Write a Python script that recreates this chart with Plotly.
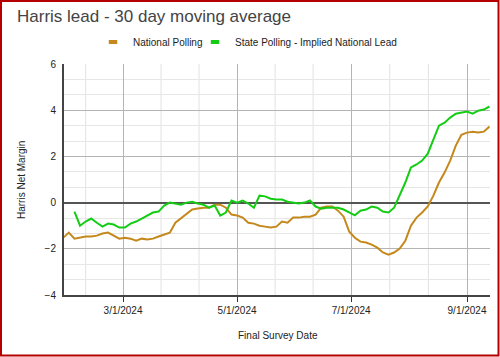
import pandas as pd
import plotly.graph_objects as go

# ---- data (30-day moving average of Harris net margin) ----
dates = pd.date_range("2024-01-29", periods=77, freq="3D")

national_polling = [
    -1.52, -1.30, -1.56, -1.52, -1.47, -1.47, -1.43, -1.34, -1.30, -1.43,
    -1.56, -1.52, -1.56, -1.65, -1.56, -1.60, -1.56, -1.47, -1.39, -1.30,
    -0.87, -0.69, -0.48, -0.30, -0.26, -0.22, -0.22, -0.09, -0.09, -0.22,
    -0.52, -0.56, -0.65, -0.87, -0.91, -1.00, -1.04, -1.08, -1.04, -0.82,
    -0.87, -0.65, -0.65, -0.61, -0.61, -0.52, -0.22, -0.17, -0.17, -0.35,
    -0.61, -1.26, -1.52, -1.69, -1.73, -1.82, -1.95, -2.16, -2.25, -2.16,
    -1.99, -1.65, -1.00, -0.65, -0.43, -0.17, 0.30, 0.87, 1.30, 1.82,
    2.47, 2.94, 3.03, 3.07, 3.03, 3.07, 3.29,
]

state_implied = [
    None, None, -0.39, -1.00, -0.82, -0.69, -0.87, -1.04, -0.91, -0.95,
    -1.08, -1.08, -0.91, -0.82, -0.69, -0.56, -0.43, -0.39, -0.13, 0.00,
    -0.04, -0.09, 0.00, 0.04, -0.04, -0.09, -0.22, -0.13, -0.56, -0.43,
    0.09, 0.00, 0.09, -0.04, -0.22, 0.30, 0.27, 0.17, 0.13, 0.13,
    0.04, 0.00, -0.04, 0.00, 0.09, -0.17, -0.26, -0.22, -0.22, -0.22,
    -0.30, -0.43, -0.55, -0.35, -0.30, -0.17, -0.22, -0.39, -0.43, -0.22,
    0.30, 0.87, 1.52, 1.65, 1.82, 2.12, 2.73, 3.33, 3.46, 3.68,
    3.85, 3.90, 3.94, 3.85, 3.98, 4.03, 4.16,
]

series_names = ["National Polling", "State Polling - Implied National Lead"]
series_colors = ["#c4881c", "#14cc14"]
major_ticks = ["2024-01-01", "2024-03-01", "2024-05-01", "2024-07-01", "2024-09-01", "2024-11-01"]
x_range = ["2024-01-29 10:00", "2024-09-13 07:00"]

FONT = "Arial, Liberation Sans, sans-serif"

fig = go.Figure()
legend_ids = ["legend", "legend2"]
for vals, name, col, lg in zip([national_polling, state_implied], series_names,
                               series_colors, legend_ids):
    fig.add_trace(go.Scatter(x=dates, y=vals, mode="lines", name=name,
                             line=dict(color=col, width=2), showlegend=False,
                             connectgaps=False))
    # compact legend swatch
    fig.add_trace(go.Scatter(x=[None], y=[None], mode="markers", name=name, legend=lg,
                             marker=dict(symbol="line-ew", size=6,
                                         line=dict(color=col, width=4))))

# minor vertical gridlines: thirds between major date ticks
mt = pd.to_datetime(major_ticks)
shapes = []
for a, b in zip(mt[:-1], mt[1:]):
    for f in (1 / 3, 2 / 3):
        t = a + (b - a) * f
        shapes.append(dict(type="line", xref="x", yref="paper", x0=t, x1=t, y0=0, y1=1,
                           line=dict(color="#e2e2e2", width=1), layer="below"))

# outer red frame
L, R, T, B = 64, 490, 64, 295
pw, ph = R - L, B - T
def px(x):
    return (x - L) / pw
def py(y):
    return (B - y) / ph
shapes.append(dict(type="rect", xref="paper", yref="paper",
                   x0=px(1), x1=px(498.5), y0=py(1), y1=py(355.5),
                   line=dict(color="#b40000", width=2), fillcolor="rgba(0,0,0,0)"))

legend_style = dict(orientation="h", yanchor="middle", y=py(42), xanchor="left",
                    font=dict(family=FONT, size=10, color="#222"), itemwidth=30,
                    bgcolor="rgba(0,0,0,0)")

fig.update_layout(
    width=500, height=357,
    margin=dict(l=L, r=500 - R, t=T, b=357 - B),
    paper_bgcolor="white", plot_bgcolor="white",
    font=dict(family=FONT, size=10, color="#222"),
    title=dict(text="Harris lead - 30 day moving average", x=17 / 500, xanchor="left",
               y=1 - 16 / 357, yanchor="middle",
               font=dict(family=FONT, size=17, color="#444")),
    legend=dict(legend_style, x=px(93)),
    legend2=dict(legend_style, x=px(195)),
    shapes=shapes,
    xaxis=dict(type="date", range=x_range, tickvals=mt, tickformat="%-m/%-d/%Y",
               showgrid=True, gridcolor="#b4b4b4", gridwidth=1,
               showline=True, linecolor="#444", linewidth=2,
               ticks="outside", ticklen=5, tickcolor="#333", tickwidth=1,
               tickfont=dict(size=10, color="#222"), zeroline=False),
    yaxis=dict(range=[-4, 6], dtick=2, tick0=0,
               showgrid=True, gridcolor="#b4b4b4", gridwidth=1,
               minor=dict(dtick=2 / 3, tick0=0, showgrid=True, gridcolor="#e6e6e6"),
               zeroline=True, zerolinecolor="#555", zerolinewidth=2,
               showline=True, linecolor="#444", linewidth=2,
               ticks="outside", ticklen=4, tickcolor="rgba(0,0,0,0)",
               tickfont=dict(size=10, color="#222")),
    annotations=[
        dict(text="Harris Net Margin", textangle=-90, xref="paper", yref="paper",
             x=px(21), y=py(180), xanchor="center", yanchor="middle", showarrow=False,
             font=dict(family=FONT, size=10, color="#222")),
        dict(text="Final Survey Date", xref="paper", yref="paper",
             x=px(278), y=py(335), xanchor="center", yanchor="middle", showarrow=False,
             font=dict(family=FONT, size=10, color="#222")),
    ],
)

fig.write_html("out.html", config={"displayModeBar": False},
               post_script="document.body.style.margin='0';")
